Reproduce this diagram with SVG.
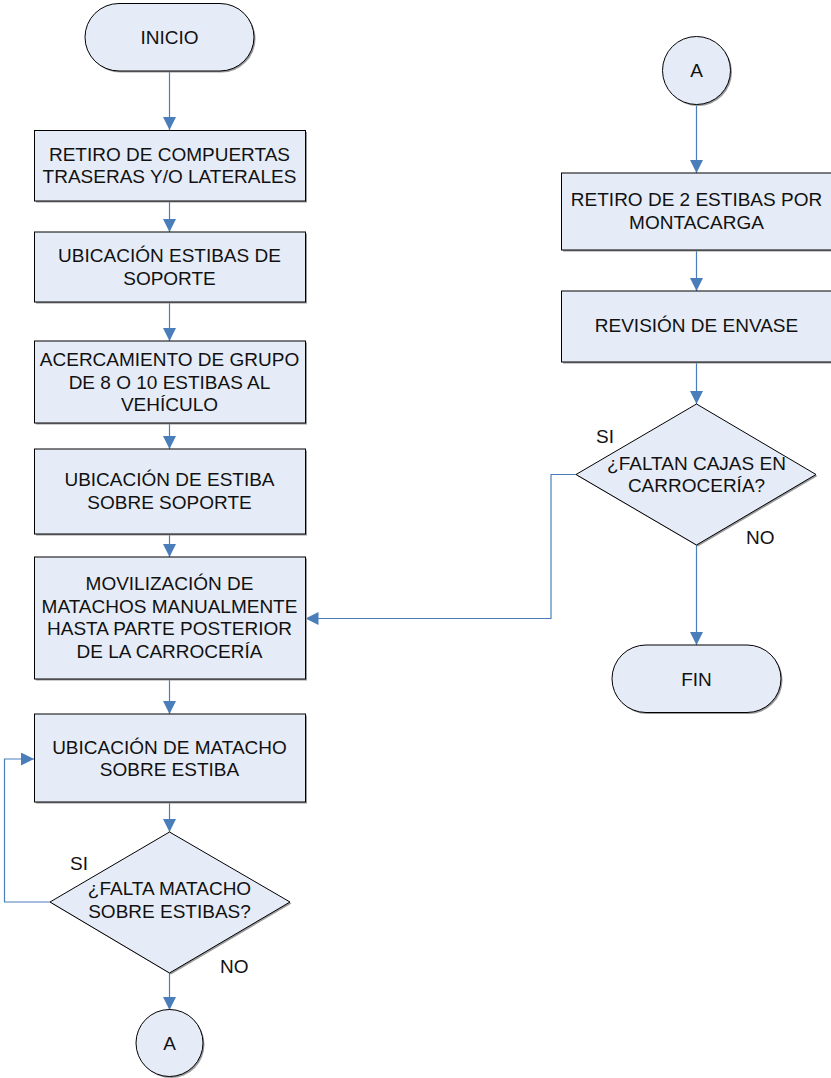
<svg xmlns="http://www.w3.org/2000/svg" width="831" height="1078" viewBox="0 0 831 1078">
  <defs>
    <style>
      .shape { fill: #E6ECF7; stroke: #000000; stroke-width: 1; }
      .shadow { fill: #9A9A9A; stroke: none; }
      .lbl { font-family: "Liberation Sans", Arial, sans-serif; font-size: 19px; fill: #111111; text-anchor: middle; }
      .tag { font-family: "Liberation Sans", Arial, sans-serif; font-size: 19px; fill: #111111; }
      .conn { fill: none; stroke: #4A7EBB; stroke-width: 1.2; }
    </style>
    <marker id="arrow" markerUnits="userSpaceOnUse" markerWidth="13" markerHeight="13" viewBox="0 0 10 10" refX="10" refY="5" orient="auto">
      <path d="M0,0 L10,5 L0,10 z" fill="#4A7EBB"/>
    </marker>
  </defs>
  <rect width="831" height="1078" fill="#FFFFFF"/>

  <!-- connectors -->
  <g id="connectors">
    <path class="conn" d="M169.5,71 V130" marker-end="url(#arrow)"/>
    <path class="conn" d="M169.5,201 V232" marker-end="url(#arrow)"/>
    <path class="conn" d="M169.5,302 V341" marker-end="url(#arrow)"/>
    <path class="conn" d="M169.5,423 V449" marker-end="url(#arrow)"/>
    <path class="conn" d="M169.5,534 V557" marker-end="url(#arrow)"/>
    <path class="conn" d="M169.5,679 V714" marker-end="url(#arrow)"/>
    <path class="conn" d="M169.5,802 V832" marker-end="url(#arrow)"/>
    <path class="conn" d="M169.5,973 V1010" marker-end="url(#arrow)"/>
    <path class="conn" d="M50,902 H4.5 V759 H34" marker-end="url(#arrow)"/>
    <path class="conn" d="M696.5,104.5 V173" marker-end="url(#arrow)"/>
    <path class="conn" d="M696.5,250 V291" marker-end="url(#arrow)"/>
    <path class="conn" d="M696.5,362 V404" marker-end="url(#arrow)"/>
    <path class="conn" d="M696.5,545 V645" marker-end="url(#arrow)"/>
    <path class="conn" d="M576,474.5 H551 V618.5 H305.5" marker-end="url(#arrow)"/>
  </g>

  <!-- left column -->
  <g id="inicio">
    <rect class="shadow" x="86.5" y="5" width="169" height="67.5" rx="34"/>
    <rect class="shape" x="85" y="3.5" width="169" height="67.5" rx="34"/>
    <text class="lbl" x="169.5" y="44">INICIO</text>
  </g>
  <g id="retiro-compuertas">
    <rect class="shadow" x="36" y="132" width="271" height="70.5"/>
    <rect class="shape" x="34.5" y="130.5" width="271" height="70.5"/>
    <text class="lbl" x="169.5" y="160.5">RETIRO DE COMPUERTAS</text>
    <text class="lbl" x="169.5" y="183">TRASERAS Y/O LATERALES</text>
  </g>
  <g id="ubicacion-soporte">
    <rect class="shadow" x="36" y="233.5" width="271" height="70"/>
    <rect class="shape" x="34.5" y="232" width="271" height="70"/>
    <text class="lbl" x="169.5" y="262">UBICACIÓN ESTIBAS DE</text>
    <text class="lbl" x="169.5" y="284.5">SOPORTE</text>
  </g>
  <g id="acercamiento">
    <rect class="shadow" x="36" y="342.5" width="271" height="82"/>
    <rect class="shape" x="34.5" y="341" width="271" height="82"/>
    <text class="lbl" x="169.5" y="366">ACERCAMIENTO DE GRUPO</text>
    <text class="lbl" x="169.5" y="388.5">DE 8 O 10 ESTIBAS AL</text>
    <text class="lbl" x="169.5" y="411">VEHÍCULO</text>
  </g>
  <g id="ubicacion-estiba">
    <rect class="shadow" x="36" y="450.5" width="271" height="85"/>
    <rect class="shape" x="34.5" y="449" width="271" height="85"/>
    <text class="lbl" x="169.5" y="486">UBICACIÓN DE ESTIBA</text>
    <text class="lbl" x="169.5" y="508.5">SOBRE SOPORTE</text>
  </g>
  <g id="movilizacion">
    <rect class="shadow" x="36" y="558.5" width="271" height="122"/>
    <rect class="shape" x="34.5" y="557" width="271" height="122"/>
    <text class="lbl" x="169.5" y="590">MOVILIZACIÓN DE</text>
    <text class="lbl" x="169.5" y="612.5">MATACHOS MANUALMENTE</text>
    <text class="lbl" x="169.5" y="635">HASTA PARTE POSTERIOR</text>
    <text class="lbl" x="169.5" y="657.5">DE LA CARROCERÍA</text>
  </g>
  <g id="ubicacion-matacho">
    <rect class="shadow" x="36" y="715.5" width="271" height="88"/>
    <rect class="shape" x="34.5" y="714" width="271" height="88"/>
    <text class="lbl" x="169.5" y="753.5">UBICACIÓN DE MATACHO</text>
    <text class="lbl" x="169.5" y="776">SOBRE ESTIBA</text>
  </g>
  <g id="falta-matacho">
    <polygon class="shadow" points="171,833.5 291.5,903.5 171,974.5 51.5,903.5"/>
    <polygon class="shape" points="169.5,832 290,902 169.5,973 50,902"/>
    <text class="lbl" x="169.5" y="895">¿FALTA MATACHO</text>
    <text class="lbl" x="169.5" y="918">SOBRE ESTIBAS?</text>
    <text class="tag" x="70" y="870">SI</text>
    <text class="tag" x="220" y="973">NO</text>
  </g>
  <g id="conector-a-salida">
    <circle class="shadow" cx="171" cy="1044.5" r="33.5"/>
    <circle class="shape" cx="169.5" cy="1043" r="33.5"/>
    <text class="lbl" x="169.5" y="1050">A</text>
  </g>

  <!-- right column -->
  <g id="conector-a-entrada">
    <circle class="shadow" cx="698" cy="72" r="34"/>
    <circle class="shape" cx="696.5" cy="70.5" r="34"/>
    <text class="lbl" x="696.5" y="77">A</text>
  </g>
  <g id="retiro-estibas">
    <rect class="shadow" x="563" y="174.5" width="270" height="77"/>
    <rect class="shape" x="561.5" y="173" width="270" height="77"/>
    <text class="lbl" x="696.5" y="206">RETIRO DE 2 ESTIBAS POR</text>
    <text class="lbl" x="696.5" y="228.5">MONTACARGA</text>
  </g>
  <g id="revision-envase">
    <rect class="shadow" x="563" y="292.5" width="270" height="71"/>
    <rect class="shape" x="561.5" y="291" width="270" height="71"/>
    <text class="lbl" x="696.5" y="332">REVISIÓN DE ENVASE</text>
  </g>
  <g id="faltan-cajas">
    <polygon class="shadow" points="698,405.5 817.5,476 698,546.5 577.5,476"/>
    <polygon class="shape" points="696.5,404 816,474.5 696.5,545 576,474.5"/>
    <text class="lbl" x="696.5" y="469.5">¿FALTAN CAJAS EN</text>
    <text class="lbl" x="696.5" y="492">CARROCERÍA?</text>
    <text class="tag" x="596" y="443">SI</text>
    <text class="tag" x="746" y="544">NO</text>
  </g>
  <g id="fin">
    <rect class="shadow" x="613.5" y="646.5" width="169" height="67.5" rx="34"/>
    <rect class="shape" x="612" y="645" width="169" height="67.5" rx="34"/>
    <text class="lbl" x="696.5" y="685.5">FIN</text>
  </g>
</svg>
